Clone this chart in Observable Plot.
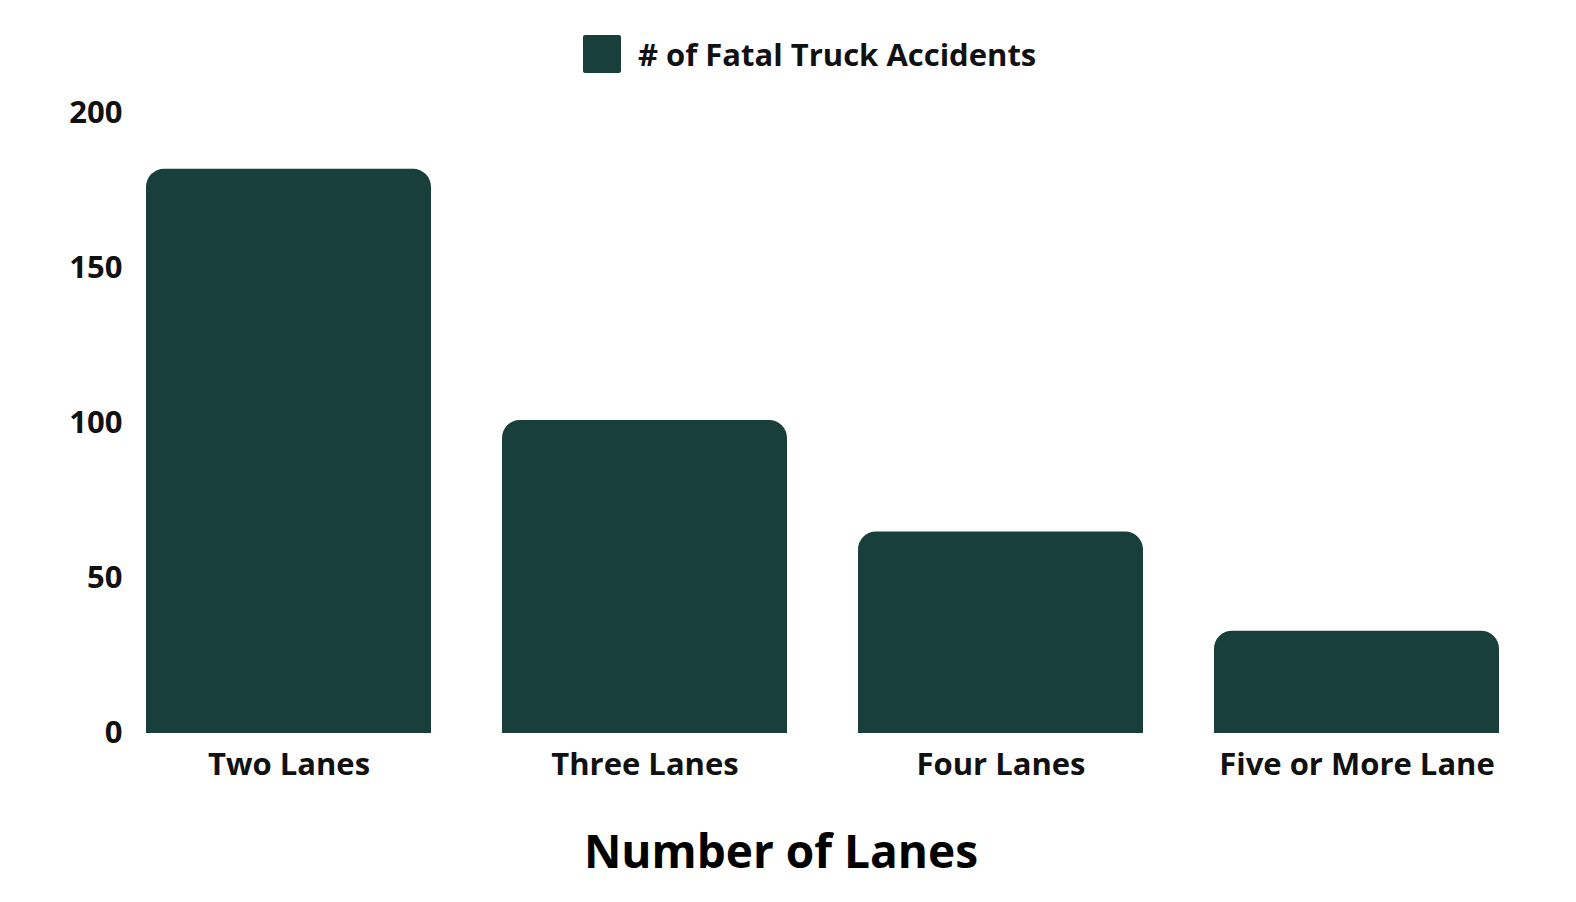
<!DOCTYPE html>
<html>
<head>
<meta charset="utf-8">
<script src="https://cdn.jsdelivr.net/npm/d3@7"></script>
<script src="https://cdn.jsdelivr.net/npm/@observablehq/plot@0.6"></script>
<style>
  body { margin: 0; background: #fff; font-family: "Open Sans", sans-serif; }
  #legend { height: 90px; position: relative; }
  #legend .sw { position: absolute; left: 583px; top: 35px; width: 38px; height: 38px; background: #183f3b; border-radius: 2px; }
  #legend .lt { position: absolute; left: 638px; top: 33px; font-size: 31px; line-height: 42px; font-weight: 700; color: #111; white-space: nowrap; }
  #xlabel { text-align: center; font-size: 46px; font-weight: 700; color: #000; line-height: 70px; margin-top: 5px; margin-left: -14px; }
</style>
</head>
<body>
<div id="legend"><div class="sw"></div><div class="lt"># of Fatal Truck Accidents</div></div>
<div id="chart"></div>
<div id="xlabel">Number of Lanes</div>
<script>
const categories = ["Two Lanes", "Three Lanes", "Four Lanes", "Five or More Lane"];
const fatalAccidents = [182, 101, 65, 33];
const yTicks = [0, 50, 100, 150, 200];
const barColor = "#183f3b";

const data = categories.map((c, i) => ({lanes: c, value: fatalAccidents[i]}));

const chart = Plot.plot({
  width: 1576,
  height: 720,
  marginLeft: 145,
  marginRight: 76,
  marginTop: 23,
  marginBottom: 77,
  style: {fontFamily: "Open Sans, sans-serif", fontWeight: 700, color: "#111", background: "#fff"},
  x: {domain: categories, padding: 0.2, paddingOuter: 0, label: null},
  y: {domain: [0, 200], ticks: yTicks, label: null},
  marks: [
    Plot.barY(data, {x: "lanes", y: "value", fill: barColor, rx: 18, ry: 18}),
    Plot.barY(data, {x: "lanes", y1: 0, y2: d => d.value / 2, fill: barColor}),
    Plot.axisX({tickSize: 0, tickPadding: 19, fontSize: 31, fontWeight: 700, label: null}),
    Plot.axisY({ticks: yTicks, tickSize: 0, tickPadding: 23, fontSize: 31, fontWeight: 700, label: null})
  ]
});
document.getElementById("chart").appendChild(chart);
</script>
</body>
</html>
